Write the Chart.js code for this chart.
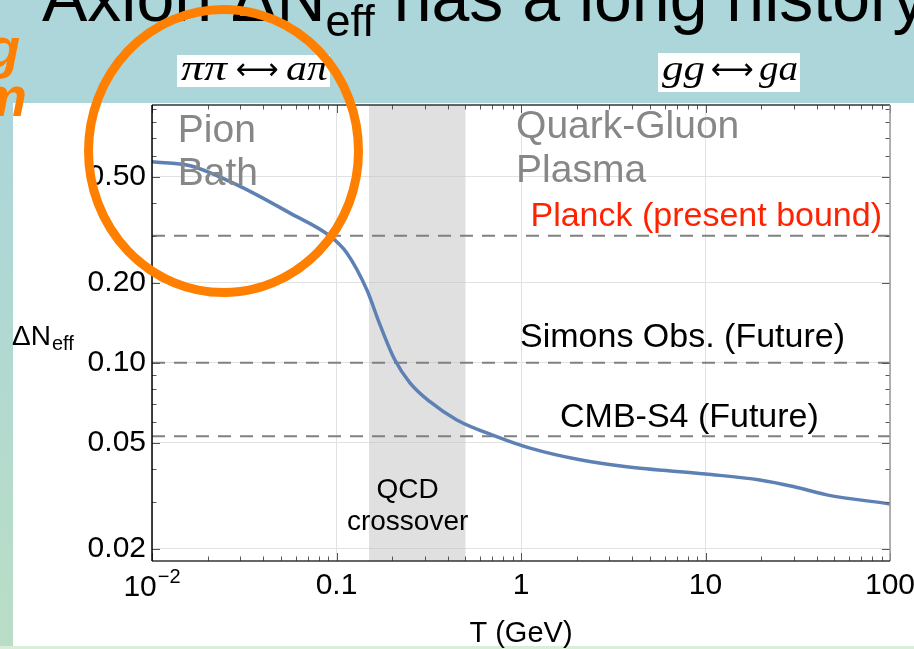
<!DOCTYPE html>
<html>
<head>
<meta charset="utf-8">
<script src="https://cdn.jsdelivr.net/npm/chart.js@4.4.1/dist/chart.umd.min.js"></script>
<style>
  html, body { margin: 0; padding: 0; }
  body {
    width: 914px; height: 649px; overflow: hidden; position: relative;
    background: #acd6d9;
    font-family: "Liberation Sans", Arial, sans-serif;
  }
  #leftStrip { position: absolute; left: 0; top: 0; width: 13px; height: 649px;
    background: linear-gradient(#acd6d9 0%, #acd6d9 20%, #b9ddc6 100%); }
  #bottomStrip { position: absolute; left: 0; top: 646px; width: 914px; height: 3px; background: #d8eed9; }
  #panel { position: absolute; left: 13px; top: 103px; width: 901px; height: 543px; background: #ffffff; }
  #chart { position: absolute; left: 0; top: 0; }
  #overlay { position: absolute; left: 0; top: 0; }
</style>
</head>
<body>
<div id="leftStrip"></div>
<div id="panel"></div>
<div id="bottomStrip"></div>
<canvas id="chart" width="914" height="649"></canvas>
<svg id="overlay" width="914" height="649" xmlns="http://www.w3.org/2000/svg">
  <!-- slide title -->
  <text x="42" y="21" font-family="Liberation Sans, Arial, sans-serif" font-size="68" fill="#000">Axion ΔN<tspan font-size="45" dy="15">eff</tspan><tspan dy="-15"> has a long history</tspan></text>
  <!-- side notes in orange -->
  <text x="20" y="67" text-anchor="end" font-family="Liberation Sans, Arial, sans-serif" font-weight="bold" font-style="italic" font-size="55" fill="#ff7f00">g</text>
  <text x="27" y="116" text-anchor="end" font-family="Liberation Sans, Arial, sans-serif" font-weight="bold" font-style="italic" font-size="55" fill="#ff7f00">m</text>
  <!-- process labels -->
  <g font-family="Liberation Serif, DejaVu Serif, serif" font-style="italic" font-size="36" fill="#000">
    <rect x="177" y="55" width="153" height="32" fill="#fff"/>
    <text x="181" y="80" textLength="46" lengthAdjust="spacingAndGlyphs">ππ</text>
    <text x="257" y="79" text-anchor="middle" font-family="DejaVu Sans" font-style="normal" font-size="30">⟷</text>
    <text x="286" y="80" textLength="42" lengthAdjust="spacingAndGlyphs">aπ</text>
    <rect x="658" y="53" width="142" height="39" fill="#fff"/>
    <text x="662" y="80" textLength="43" lengthAdjust="spacingAndGlyphs">gg</text>
    <text x="732" y="79" text-anchor="middle" font-family="DejaVu Sans" font-style="normal" font-size="30">⟷</text>
    <text x="759" y="80" textLength="39" lengthAdjust="spacingAndGlyphs">ga</text>
  </g>
  <!-- highlight ring -->
  <ellipse cx="223.5" cy="151" rx="135" ry="141.5" fill="none" stroke="#ff7f00" stroke-width="9"/>
</svg>
<script>
// Temperature (GeV) and axion contribution to the effective number of neutrinos
const temperatureGeV = [0.01, 0.0161, 0.030, 0.056, 0.0923, 0.1135, 0.146, 0.172, 0.207, 0.25, 0.321, 0.449, 0.738, 1.12, 2.09, 3.74, 10, 19.7, 29.9, 45.4, 100];
const deltaNeff      = [0.569, 0.550, 0.460, 0.365, 0.299, 0.259, 0.188, 0.139, 0.1026, 0.0841, 0.0714, 0.061, 0.0528, 0.0478, 0.0432, 0.0407, 0.0382, 0.0363, 0.0343, 0.0319, 0.0295];

// Observational bounds / forecasts on ΔN_eff
const boundNames  = ['Planck (present bound)', 'Simons Obs. (Future)', 'CMB-S4 (Future)'];
const boundValues = [0.3, 0.1, 0.053];

// QCD crossover window (GeV)
const qcdBand = [0.15, 0.5];

// Axis ranges and ticks
const xRange = [0.01, 100];
const yRange = [0.018, 0.93];
const xTicks = [0.01, 0.1, 1, 10, 100];
const xTickLabels = ['', '0.1', '1', '10', '100'];
const yTicks = [0.02, 0.05, 0.1, 0.2, 0.5];
const yTickLabels = ['0.02', '0.05', '0.10', '0.20', '0.50'];

const FONT = '"Liberation Sans", Arial, sans-serif';
Chart.defaults.font.family = FONT;

// Text placed in data coordinates (T, ΔN_eff at the baseline)
const notes = [
  { text: 'Pion', t: 0.0138, v: 0.678, align: 'left', color: '#878787', size: 39 },
  { text: 'Bath', t: 0.0138, v: 0.467, align: 'left', color: '#878787', size: 39 },
  { text: 'Quark-Gluon', t: 0.94, v: 0.70, align: 'left', color: '#878787', size: 39 },
  { text: 'Plasma', t: 0.94, v: 0.479, align: 'left', color: '#878787', size: 39 },
  { text: boundNames[0], t: 90.5, v: 0.327, align: 'right', color: '#ff2200', size: 34 },
  { text: boundNames[1], t: 0.988, v: 0.115, align: 'left', color: '#000', size: 34 },
  { text: boundNames[2], t: 1.627, v: 0.0575, align: 'left', color: '#000', size: 34 },
  { text: 'QCD', t: 0.243, v: 0.0311, align: 'center', color: '#000', size: 28 },
  { text: 'crossover', t: 0.243, v: 0.0235, align: 'center', color: '#000', size: 28 }
];

function minorValues(lo, hi) {
  const out = [];
  for (let d = Math.floor(Math.log10(lo)); d <= Math.ceil(Math.log10(hi)); d++) {
    for (let m = 1; m <= 9; m++) {
      const v = m * Math.pow(10, d);
      if (v >= lo * 0.9999 && v <= hi * 1.0001) out.push(v);
    }
  }
  return out;
}

const decorations = {
  id: 'decorations',
  beforeDatasetsDraw(chart) {
    const { ctx, chartArea: { top, bottom }, scales: { x } } = chart;
    const x0 = x.getPixelForValue(qcdBand[0]);
    const x1 = x.getPixelForValue(qcdBand[1]);
    ctx.save();
    ctx.fillStyle = 'rgba(190,190,190,0.47)';
    ctx.fillRect(x0, top, x1 - x0, bottom - top);
    ctx.restore();
  },
  afterDatasetsDraw(chart) {
    const { ctx, scales: { x, y } } = chart;
    ctx.save();
    ctx.textBaseline = 'alphabetic';
    notes.forEach(n => {
      ctx.font = n.size + 'px ' + FONT;
      ctx.fillStyle = n.color;
      ctx.textAlign = n.align;
      ctx.fillText(n.text, x.getPixelForValue(n.t), y.getPixelForValue(n.v));
    });
    ctx.restore();
  },
  afterDraw(chart) {
    const { ctx, chartArea: { left, right, top, bottom }, scales: { x, y } } = chart;
    ctx.save();
    // frame ticks, pointing inward
    const major = 8, minor = 4.5;
    ctx.lineWidth = 1;
    ctx.strokeStyle = '#555';
    minorValues(xRange[0], xRange[1]).forEach(v => {
      const px = Math.round(x.getPixelForValue(v)) + 0.5;
      const len = xTicks.some(t => Math.abs(t - v) / v < 1e-6) ? major : minor;
      ctx.beginPath();
      ctx.moveTo(px, bottom); ctx.lineTo(px, bottom - len);
      ctx.moveTo(px, top); ctx.lineTo(px, top + len);
      ctx.stroke();
    });
    minorValues(0.02, 0.9).forEach(v => {
      const py = Math.round(y.getPixelForValue(v)) + 0.5;
      const len = yTicks.some(t => Math.abs(t - v) / v < 1e-6) ? major : minor;
      ctx.beginPath();
      ctx.moveTo(left, py); ctx.lineTo(left + len, py);
      ctx.moveTo(right, py); ctx.lineTo(right - len, py);
      ctx.stroke();
    });
    // frame lines
    ctx.lineWidth = 1.5;
    ctx.strokeStyle = '#333';
    ctx.beginPath(); ctx.moveTo(left, top); ctx.lineTo(right, top); ctx.stroke();
    ctx.strokeStyle = '#9a9a9a';
    ctx.beginPath(); ctx.moveTo(right, top); ctx.lineTo(right, bottom); ctx.stroke();
    ctx.strokeStyle = '#333';
    ctx.beginPath(); ctx.moveTo(left, bottom); ctx.lineTo(right, bottom); ctx.stroke();
    ctx.strokeStyle = '#000';
    ctx.beginPath(); ctx.moveTo(left, top); ctx.lineTo(left, bottom); ctx.stroke();

    // 10^-2 tick label
    ctx.fillStyle = '#000';
    ctx.textBaseline = 'alphabetic';
    ctx.textAlign = 'left';
    ctx.font = '30px ' + FONT;
    const wBase = ctx.measureText('10').width;
    ctx.font = '20px ' + FONT;
    const wExp = ctx.measureText('\u22122').width;
    const cx = x.getPixelForValue(xTicks[0]);
    const startX = cx - (wBase + wExp + 1) / 2;
    ctx.font = '30px ' + FONT;
    ctx.fillText('10', startX, 596);
    ctx.font = '20px ' + FONT;
    ctx.fillText('\u22122', startX + wBase + 1, 583);

    // axis titles
    ctx.font = '29px ' + FONT;
    ctx.textAlign = 'center';
    ctx.fillText('T (GeV)', (left + right) / 2, 642);
    ctx.textAlign = 'left';
    ctx.font = '28px ' + FONT;
    ctx.fillText('\u0394N', 12, 345);
    const wDN = ctx.measureText('\u0394N').width;
    ctx.font = '20px ' + FONT;
    ctx.fillText('eff', 12 + wDN + 1, 350);
    ctx.restore();
  }
};

const curve = temperatureGeV.map((t, i) => ({ x: t, y: deltaNeff[i] }));
const boundSets = boundValues.map((b, i) => ({
  label: boundNames[i],
  data: [{ x: xRange[0], y: b }, { x: xRange[1], y: b }],
  borderColor: '#808080',
  borderWidth: 2,
  borderDash: [13, 9],
  pointRadius: 0
}));

new Chart(document.getElementById('chart'), {
  type: 'line',
  data: {
    datasets: [
      {
        label: 'ΔN_eff',
        data: curve,
        borderColor: '#5e81b5',
        borderWidth: 3.5,
        pointRadius: 0,
        cubicInterpolationMode: 'monotone',
        fill: false
      },
      ...boundSets
    ]
  },
  options: {
    responsive: false,
    animation: false,
    devicePixelRatio: 1,
    layout: { padding: { left: 0, right: 24, top: 105, bottom: 0 } },
    plugins: { legend: { display: false }, tooltip: { enabled: false } },
    scales: {
      x: {
        type: 'logarithmic',
        min: xRange[0],
        max: xRange[1],
        afterBuildTicks: s => { s.ticks = xTicks.map(v => ({ value: v })); },
        afterFit: s => { s.height = 88; s.paddingLeft = 0; s.paddingRight = 0; },
        grid: { color: '#e2e2e2', lineWidth: 1, drawTicks: false },
        border: { display: false },
        ticks: {
          autoSkip: false, maxRotation: 0, padding: 7,
          color: '#000', font: { size: 30 },
          callback: (v, i) => xTickLabels[i]
        }
      },
      y: {
        type: 'logarithmic',
        min: yRange[0],
        max: yRange[1],
        afterBuildTicks: s => { s.ticks = yTicks.map(v => ({ value: v })); },
        afterFit: s => { s.width = 152; s.paddingTop = 0; s.paddingBottom = 0; },
        grid: { color: '#e2e2e2', lineWidth: 1, drawTicks: false },
        border: { display: false },
        ticks: {
          autoSkip: false, padding: 6,
          color: '#000', font: { size: 30 },
          callback: (v, i) => yTickLabels[i]
        }
      }
    }
  },
  plugins: [decorations]
});
</script>
</body>
</html>
